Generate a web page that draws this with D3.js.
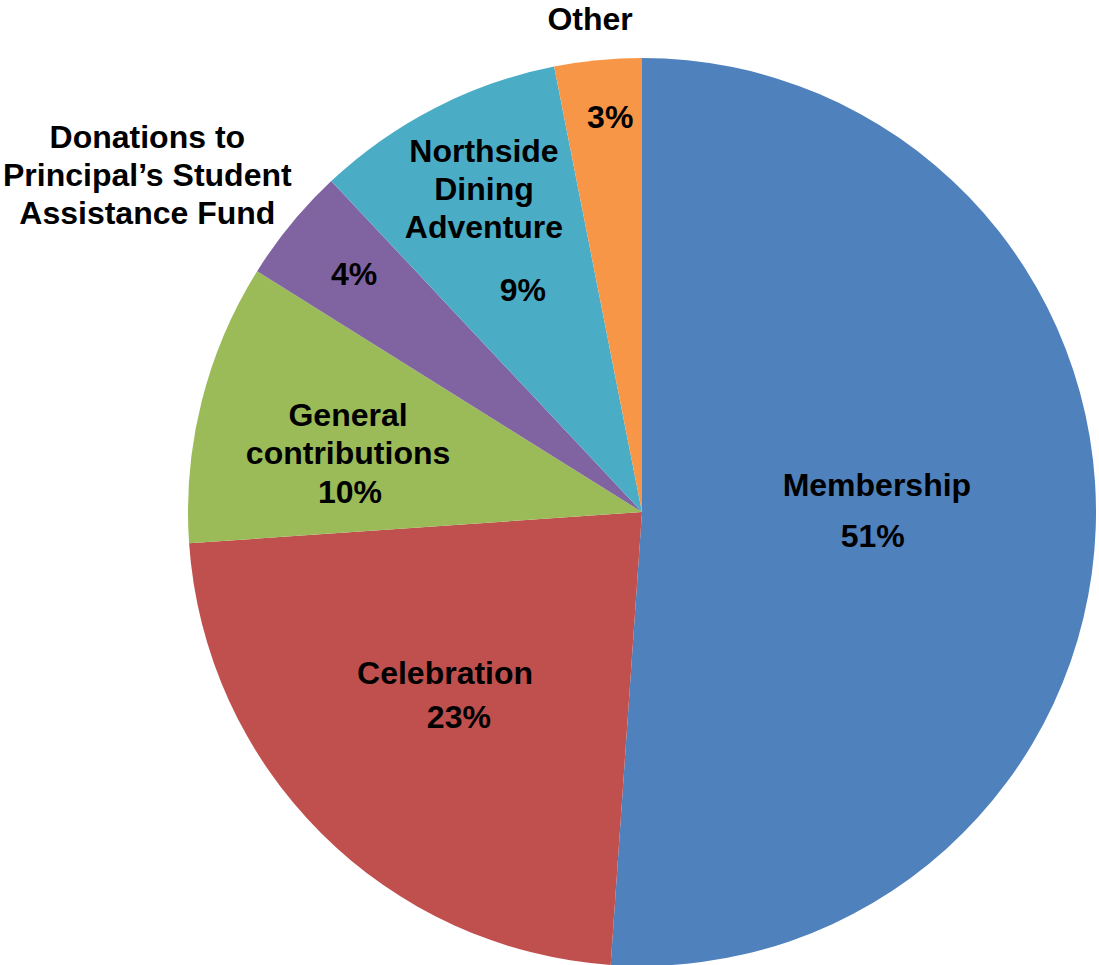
<!DOCTYPE html>
<html>
<head>
<meta charset="utf-8">
<script src="https://cdn.jsdelivr.net/npm/d3@7"></script>
<style>
    body { margin: 0; background: #fff; }
    text { font-family: "Liberation Sans", Arial, sans-serif; font-weight: bold; fill: #000; }
</style>
</head>
<body>
<div id="chart"></div>
<script>
// Data
const categories = ['Membership', 'Celebration', 'General contributions',
    'Donations to Principal\u2019s Student Assistance Fund', 'Northside Dining Adventure', 'Other'];
const nameLines = [
    ['Membership'],
    ['Celebration'],
    ['General', 'contributions'],
    ['Donations to', 'Principal\u2019s Student', 'Assistance Fund'],
    ['Northside', 'Dining', 'Adventure'],
    ['Other']
];
const values = [51.1, 22.8, 10.0, 4.1, 8.9, 3.1];
const colors = ['#4f81bd', '#c0504d', '#9bbb59', '#8064a2', '#4bacc6', '#f79646'];

// label placement: [angle deg, radius fraction]
const namePos = [[83.2, 0.521], [230.9, 0.559], [284.9, 0.670], [304.3, 1.319], [334.0, 0.794], [354.0, 1.094]];
const pctPos = [[95.9, 0.511], [221.9, 0.604], [274.1, 0.645], [309.7, 0.824], [331.8, 0.555], [355.4, 0.873]];

const dimensions = {
    width: 1099,
    height: 965,
    cx: 642,
    cy: 512,
    radius: 454,
    fontSize: 32,
    lineHeight: 38
};

const svg = d3.select('#chart')
    .append('svg')
    .attr('width', dimensions.width)
    .attr('height', dimensions.height);

const container = svg.append('g')
    .attr('transform', `translate(${dimensions.cx}, ${dimensions.cy})`);

const pie = d3.pie().sort(null).value(d => d);
const arcs = pie(values);
const arc = d3.arc().innerRadius(0).outerRadius(dimensions.radius);

container.selectAll('path')
    .data(arcs)
    .join('path')
    .attr('d', arc)
    .attr('fill', (d, i) => colors[i]);

const rad = deg => deg * Math.PI / 180;
const pctFormat = v => `${Math.round(v)}%`;

// names and percentages
arcs.forEach((d, i) => {
    const [x, y] = d3.pointRadial(rad(namePos[i][0]), namePos[i][1] * dimensions.radius);
    const lines = nameLines[i];
    const top = y - (lines.length - 1) * dimensions.lineHeight / 2;
    container.append('text')
        .attr('text-anchor', 'middle')
        .style('font-size', `${dimensions.fontSize}px`)
        .selectAll('tspan')
        .data(lines)
        .join('tspan')
        .attr('x', x)
        .attr('y', (l, j) => top + j * dimensions.lineHeight)
        .attr('dy', '0.36em')
        .text(l => l);

    const [px, py] = d3.pointRadial(rad(pctPos[i][0]), pctPos[i][1] * dimensions.radius);
    container.append('text')
        .attr('text-anchor', 'middle')
        .style('font-size', `${dimensions.fontSize}px`)
        .attr('x', px)
        .attr('y', py)
        .attr('dy', '0.36em')
        .text(pctFormat(d.data));
});
</script>
</body>
</html>
